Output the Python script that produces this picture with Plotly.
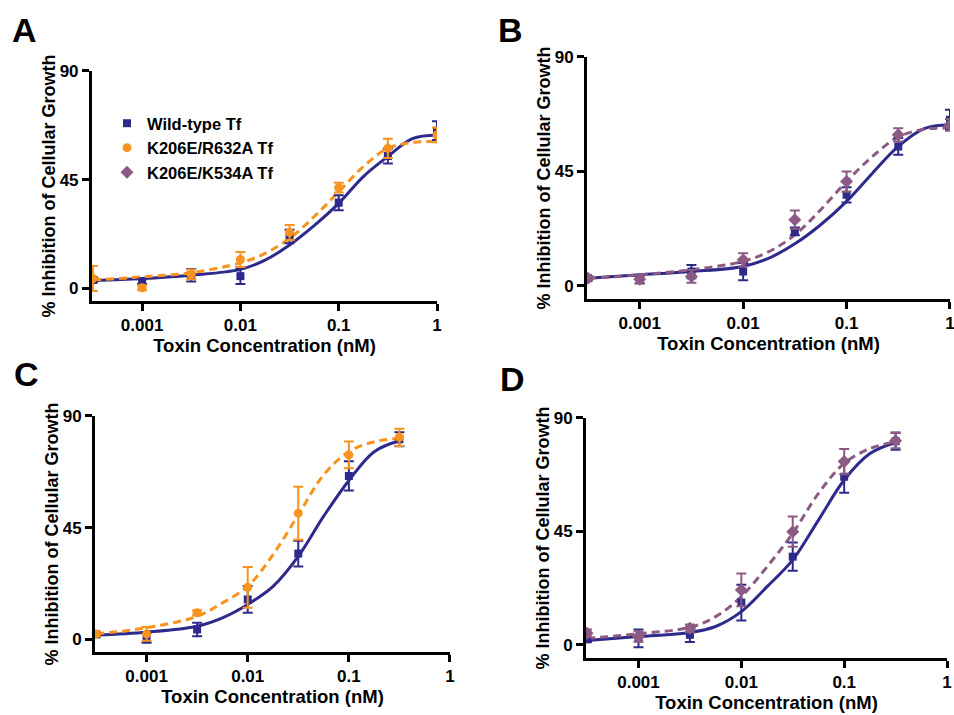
import plotly.graph_objects as go

# ---------------- data ----------------
# concentrations (nM) of measured points
conc_8 = [0.000316, 0.001, 0.00316, 0.01, 0.0316, 0.1, 0.316, 1.0]
conc_7 = [0.000316, 0.001, 0.00316, 0.01, 0.0316, 0.1, 0.316]
fit_conc_8 = [0.000316, 0.001, 0.00316, 0.01, 0.0178, 0.0316, 0.0562, 0.1, 0.178, 0.316, 0.562, 1.0]
fit_conc_7 = [0.000316, 0.001, 0.00316, 0.00562, 0.01, 0.0178, 0.0316, 0.0562, 0.1, 0.178, 0.316]

# Panel A: wild-type vs K206E/R632A
wt_A = [3.5, 2.8, 5.5, 5.1, 21.5, 35.5, 54.8, 65.3]
wt_A_err = [1.0, 1.0, 2.6, 3.3, 2.8, 3.1, 3.1, 3.9]
r632_A = [4.1, 0.3, 5.8, 12.0, 23.2, 41.7, 58.0, 63.5]
r632_A_err = [5.2, 1.0, 2.0, 3.1, 3.1, 2.0, 4.0, 3.0]
wt_A_fit = [3.2, 4.1, 5.5, 7.9, 11.7, 18.0, 26.0, 35.2, 46.3, 54.6, 62.0, 63.5]
r632_A_fit = [3.5, 4.8, 6.5, 10.6, 14.5, 20.7, 29.7, 40.0, 50.4, 58.0, 60.4, 60.8]

# Panel B: wild-type vs K206E/K534A
wt_B = [3.0, 2.4, 5.6, 5.6, 21.4, 35.8, 54.8, 65.3]
wt_B_err = [0.8, 1.5, 2.6, 3.4, 1.5, 3.0, 3.3, 3.9]
k534_B = [3.0, 2.6, 3.7, 10.2, 26.0, 41.0, 59.4, 63.3]
k534_B_err = [0.8, 1.5, 2.5, 2.6, 3.6, 4.0, 2.6, 2.3]
wt_B_fit = [3.0, 4.3, 5.6, 7.6, 10.9, 16.5, 24.0, 33.2, 44.3, 54.8, 61.8, 63.3]
k534_B_fit = [3.0, 4.3, 6.3, 9.6, 13.5, 20.0, 29.9, 41.0, 50.9, 58.5, 61.6, 62.0]

# Panel C: wild-type vs K206E/R632A
wt_C = [1.9, 0.5, 3.9, 16.0, 34.5, 65.8, 80.6]
wt_C_err = [1.0, 2.0, 2.7, 5.4, 5.2, 5.9, 2.8]
r632_C = [2.1, 2.1, 10.6, 20.9, 50.8, 74.3, 81.4]
r632_C_err = [1.0, 2.8, 1.0, 8.2, 10.7, 5.4, 3.5]
wt_C_fit = [1.6, 2.8, 5.2, 8.6, 14.0, 21.3, 33.4, 49.5, 64.0, 75.6, 80.0]
r632_C_fit = [2.1, 4.6, 9.2, 14.6, 21.3, 34.1, 50.1, 66.2, 75.6, 79.6, 81.0]

# Panel D: wild-type vs K206E/K534A
wt_D = [2.2, 2.6, 4.0, 16.8, 35.0, 66.7, 80.8]
wt_D_err = [1.0, 3.5, 2.8, 7.1, 5.6, 6.4, 3.4]
k534_D = [4.6, 3.3, 6.6, 21.8, 44.9, 72.7, 81.0]
k534_D_err = [1.5, 2.0, 1.5, 6.5, 6.0, 5.0, 3.0]
wt_D_fit = [1.7, 3.3, 4.9, 7.3, 13.2, 23.1, 33.7, 49.5, 65.4, 75.9, 80.3]
k534_D_fit = [2.6, 4.4, 7.0, 11.2, 19.2, 31.0, 44.3, 60.1, 72.0, 77.9, 80.5]

series_names = ["Wild-type Tf", "K206E/R632A Tf", "K206E/K534A Tf"]
x_tickvals = [0.001, 0.01, 0.1, 1]
x_ticktext = ["0.001", "0.01", "0.1", "1"]
y_tickvals = [0, 45, 90]
panel_letters = ["A", "B", "C", "D"]

# ---------------- styling ----------------
BLUE = "#2e2a8c"
ORANGE = "#f7931e"
PURPLE = "#8c5a82"
FONT = "Liberation Sans, Arial, sans-serif"

fig = go.Figure()

panels = [
    dict(sfx="", xd=[0.0964, 0.4581], yd=[0.5790, 0.9007],
         conc=conc_8, fc=fit_conc_8,
         wt=(wt_A, wt_A_err, wt_A_fit), mut=(r632_A, r632_A_err, r632_A_fit),
         mcol=ORANGE, msym="circle", mname=series_names[1], letter=panel_letters[0],
         lx=24, ly=30),
    dict(sfx="2", xd=[0.6153, 0.9958], yd=[0.5818, 0.9203],
         conc=conc_8, fc=fit_conc_8,
         wt=(wt_B, wt_B_err, wt_B_fit), mut=(k534_B, k534_B_err, k534_B_fit),
         mcol=PURPLE, msym="diamond", mname=series_names[2], letter=panel_letters[1],
         lx=511, ly=30),
    dict(sfx="3", xd=[0.0996, 0.4717], yd=[0.0881, 0.4182],
         conc=conc_7, fc=fit_conc_7,
         wt=(wt_C, wt_C_err, wt_C_fit), mut=(r632_C, r632_C_err, r632_C_fit),
         mcol=ORANGE, msym="circle", mname=series_names[1], letter=panel_letters[2],
         lx=26, ly=374),
    dict(sfx="4", xd=[0.6143, 0.9927], yd=[0.0797, 0.4154],
         conc=conc_7, fc=fit_conc_7,
         wt=(wt_D, wt_D_err, wt_D_fit), mut=(k534_D, k534_D_err, k534_D_fit),
         mcol=PURPLE, msym="diamond", mname=series_names[2], letter=panel_letters[3],
         lx=512, ly=379),
]

W, H = 954, 715
annotations = []
for i, p in enumerate(panels):
    xa = "x" + p["sfx"]
    ya = "y" + p["sfx"]
    first = (i == 0)
    # fitted curves
    fig.add_trace(go.Scatter(x=p["fc"], y=p["wt"][2], mode="lines", xaxis=xa, yaxis=ya,
                             line=dict(color=BLUE, width=3, shape="spline"),
                             showlegend=False, hoverinfo="skip"))
    fig.add_trace(go.Scatter(x=p["fc"], y=p["mut"][2], mode="lines", xaxis=xa, yaxis=ya,
                             line=dict(color=p["mcol"], width=3, dash="8px,5px", shape="spline"),
                             showlegend=False, hoverinfo="skip"))
    # data points
    fig.add_trace(go.Scatter(x=p["conc"], y=p["wt"][0], mode="markers", xaxis=xa, yaxis=ya,
                             name=series_names[0], showlegend=first, legendrank=1,
                             marker=dict(symbol="square", size=8, color=BLUE),
                             error_y=dict(type="data", array=p["wt"][1], color=BLUE,
                                          thickness=2, width=5)))
    fig.add_trace(go.Scatter(x=p["conc"], y=p["mut"][0], mode="markers", xaxis=xa, yaxis=ya,
                             name=p["mname"], showlegend=first, legendrank=2,
                             marker=dict(symbol=p["msym"], size=9 if p["msym"] == "circle" else 10,
                                         color=p["mcol"]),
                             error_y=dict(type="data", array=p["mut"][1], color=p["mcol"],
                                          thickness=2, width=5)))
    if first:
        # legend-only entry for the third construct
        fig.add_trace(go.Scatter(x=[None], y=[None], mode="markers", xaxis=xa, yaxis=ya,
                                 name=series_names[2], showlegend=True, legendrank=3,
                                 marker=dict(symbol="diamond", size=10, color=PURPLE)))

    axis_common = dict(showline=True, linecolor="black", linewidth=3, ticks="outside",
                       ticklen=7, tickwidth=2.5, tickcolor="black", showgrid=False,
                       zeroline=False, automargin=False, ticklabeloverflow="allow",
                       tickfont=dict(family=FONT, size=17, color="black", weight="bold"))
    fig.update_layout(**{
        "xaxis" + p["sfx"]: dict(axis_common, type="log", range=[-3.51, 0], domain=p["xd"],
                                 anchor=ya, tickvals=x_tickvals, ticktext=x_ticktext,
                                 title=dict(text="Toxin Concentration (nM)", standoff=3,
                                            font=dict(family=FONT, size=18.5, color="black",
                                                      weight="bold"))),
        "yaxis" + p["sfx"]: dict(axis_common, range=[-5.2, 90], domain=p["yd"], anchor=xa,
                                 tickvals=y_tickvals,
                                 title=dict(text="% Inhibition of Cellular Growth", standoff=0,
                                            font=dict(family=FONT, size=18, color="black",
                                                      weight="bold"))),
    })
    annotations.append(dict(text=p["letter"], xref="paper", yref="paper",
                            x=p["lx"] / W, y=1 - p["ly"] / H, xanchor="center", yanchor="middle",
                            showarrow=False,
                            font=dict(family=FONT, size=34, color="black", weight="bold")))

fig.update_layout(
    width=W, height=H,
    margin=dict(l=0, r=0, t=0, b=0),
    paper_bgcolor="white", plot_bgcolor="white",
    annotations=annotations,
    showlegend=True,
    legend=dict(x=107 / W, y=1 - 106 / H, xanchor="left", yanchor="top",
                bgcolor="rgba(0,0,0,0)", traceorder="normal",
                font=dict(family=FONT, size=16.5, color="black", weight="bold")),
)

fig.write_html("out.html", config={"displayModeBar": False},
               post_script="document.body.style.margin='0';document.body.style.overflow='hidden';")
